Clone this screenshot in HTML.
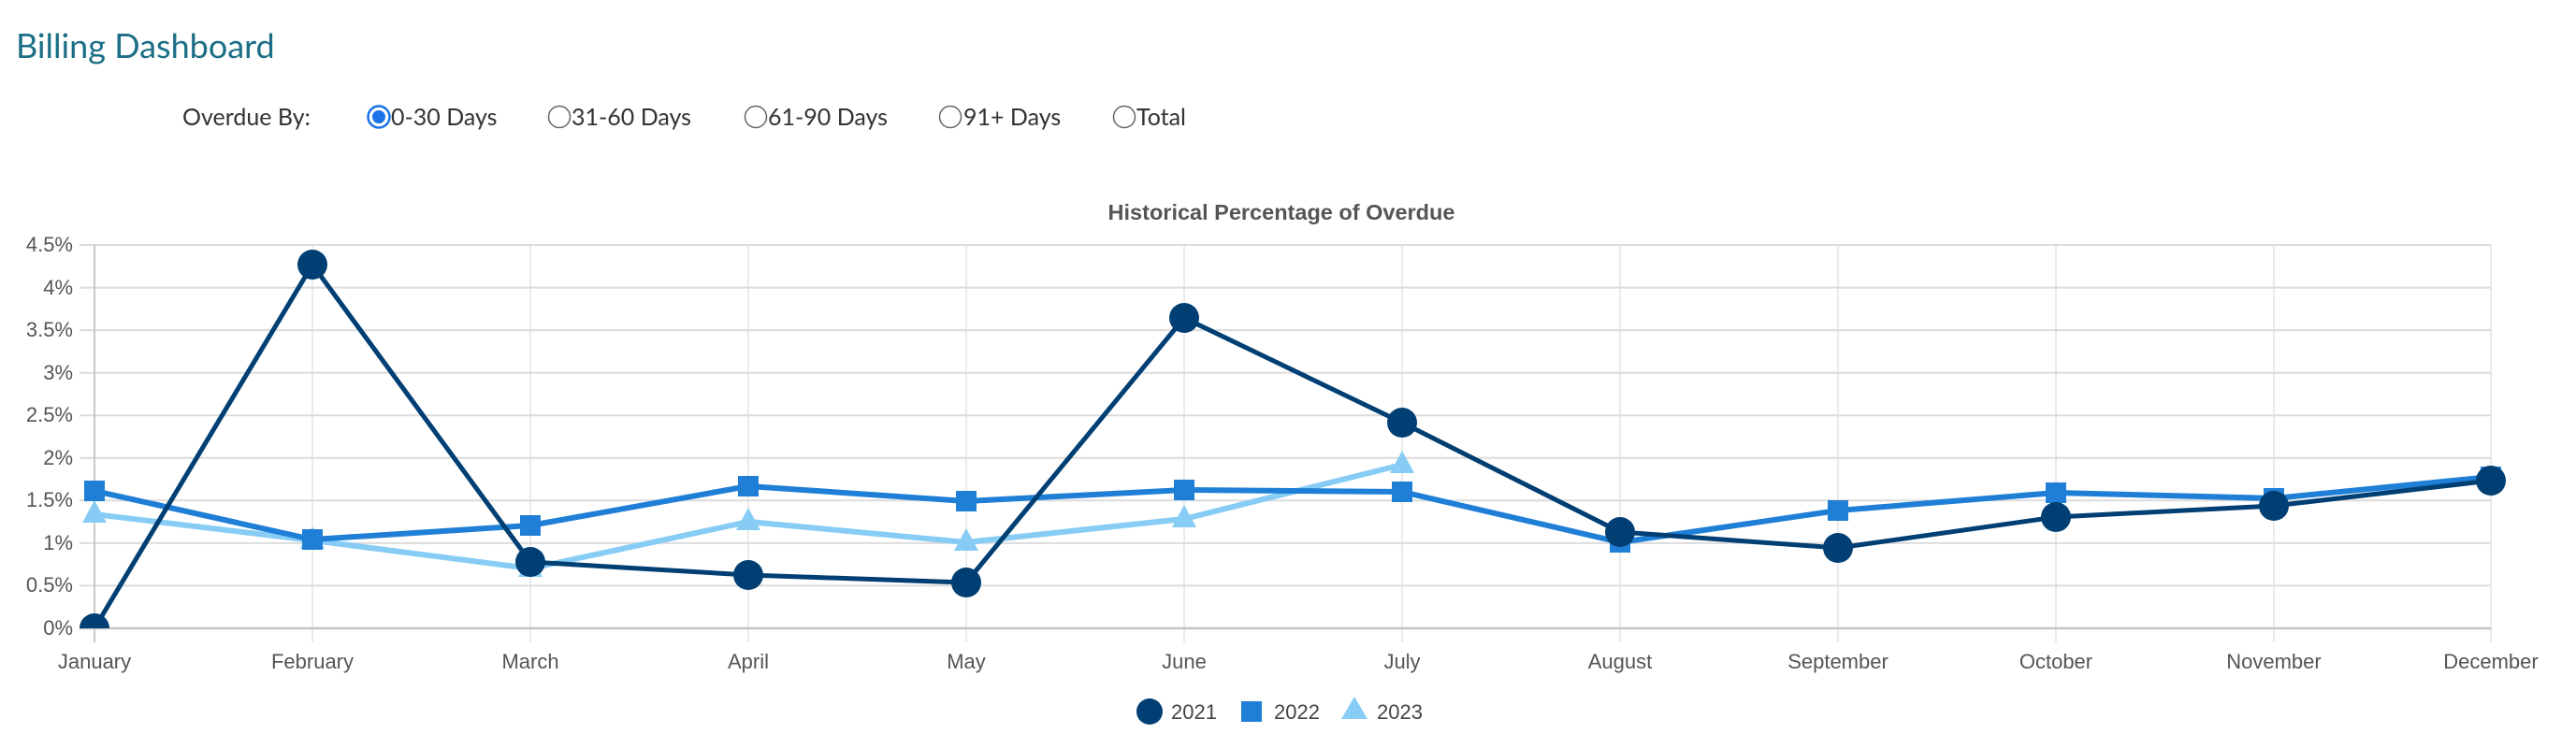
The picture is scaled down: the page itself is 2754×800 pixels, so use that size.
<!DOCTYPE html>
<html><head><meta charset="utf-8"><style>
html,body{margin:0;padding:0;background:#fff;width:2754px;height:800px;overflow:hidden}
svg{display:block}
</style></head><body>
<svg width="2754" height="800" viewBox="0 0 2754 800" xmlns="http://www.w3.org/2000/svg">
<text x="17" y="62" font-family="Lato, 'Liberation Sans', sans-serif" font-size="36" fill="#1b6e86">Billing Dashboard</text>
<g font-family="Lato, 'Liberation Sans', sans-serif" font-size="25" fill="#333">
<text x="195" y="134">Overdue By:</text>
<circle cx="405" cy="125" r="11.5" fill="#fff" stroke="#1a73e8" stroke-width="2.5"/>
<circle cx="405" cy="125" r="7" fill="#1a73e8"/>
<text x="418" y="134">0-30 Days</text>
<circle cx="598" cy="125" r="11.5" fill="#fff" stroke="#666" stroke-width="1.5"/>
<text x="611" y="134">31-60 Days</text>
<circle cx="808" cy="125" r="11.5" fill="#fff" stroke="#666" stroke-width="1.5"/>
<text x="821" y="134">61-90 Days</text>
<circle cx="1016" cy="125" r="11.5" fill="#fff" stroke="#666" stroke-width="1.5"/>
<text x="1030" y="134">91+ Days</text>
<circle cx="1202" cy="125" r="11.5" fill="#fff" stroke="#666" stroke-width="1.5"/>
<text x="1215" y="134">Total</text>
</g>
<text x="1370" y="235" text-anchor="middle" font-family="'Liberation Sans', sans-serif" font-weight="bold" font-size="23.5" fill="#555">Historical Percentage of Overdue</text>
<g stroke="#dcdcdc" stroke-width="2">
<line x1="85" y1="262" x2="2663" y2="262"/>
<line x1="85" y1="307.6" x2="2663" y2="307.6"/>
<line x1="85" y1="353.1" x2="2663" y2="353.1"/>
<line x1="85" y1="398.7" x2="2663" y2="398.7"/>
<line x1="85" y1="444.2" x2="2663" y2="444.2"/>
<line x1="85" y1="489.8" x2="2663" y2="489.8"/>
<line x1="85" y1="535.3" x2="2663" y2="535.3"/>
<line x1="85" y1="580.9" x2="2663" y2="580.9"/>
<line x1="85" y1="626.4" x2="2663" y2="626.4"/>
</g>
<g stroke="#dcdcdc" stroke-width="1.2">
<line x1="334" y1="262" x2="334" y2="687"/><line x1="567" y1="262" x2="567" y2="687"/>
<line x1="800" y1="262" x2="800" y2="687"/><line x1="1033" y1="262" x2="1033" y2="687"/>
<line x1="1266" y1="262" x2="1266" y2="687"/><line x1="1499" y1="262" x2="1499" y2="687"/>
<line x1="1732" y1="262" x2="1732" y2="687"/><line x1="1965" y1="262" x2="1965" y2="687"/>
<line x1="2198" y1="262" x2="2198" y2="687"/><line x1="2431" y1="262" x2="2431" y2="687"/>
<line x1="2663" y1="262" x2="2663" y2="687"/>
</g>
<line x1="101" y1="262" x2="101" y2="687" stroke="#c8c8c8" stroke-width="2"/>
<line x1="85" y1="672" x2="2663" y2="672" stroke="#c4c4c4" stroke-width="2.5"/>
<g font-family="'Liberation Sans', sans-serif" font-size="22" fill="#555" text-anchor="end">
<text x="78" y="269">4.5%</text><text x="78" y="315">4%</text><text x="78" y="360">3.5%</text>
<text x="78" y="406">3%</text><text x="78" y="451">2.5%</text><text x="78" y="497">2%</text>
<text x="78" y="542">1.5%</text><text x="78" y="588">1%</text><text x="78" y="633">0.5%</text>
<text x="78" y="679">0%</text>
</g>
<g font-family="'Liberation Sans', sans-serif" font-size="22" fill="#555" text-anchor="middle">
<text x="101" y="715">January</text><text x="334" y="715">February</text><text x="567" y="715">March</text>
<text x="800" y="715">April</text><text x="1033" y="715">May</text><text x="1266" y="715">June</text>
<text x="1499" y="715">July</text><text x="1732" y="715">August</text><text x="1965" y="715">September</text>
<text x="2198" y="715">October</text><text x="2431" y="715">November</text><text x="2663" y="715">December</text>
</g>
<defs><clipPath id="pc"><rect x="0" y="240" width="2754" height="432"/></clipPath></defs>
<g clip-path="url(#pc)">
<polyline fill="none" stroke="#86ccf5" stroke-width="6" stroke-linejoin="round" points="101,550 334,578 567,608 800,558 1033,580 1266,555 1499,497"/>
<g fill="#86ccf5">
<polygon points="101,535 114,559 88,559"/><polygon points="334,563 347,587 321,587"/>
<polygon points="567,593 580,617 554,617"/><polygon points="800,543 813,567 787,567"/>
<polygon points="1033,565 1046,589 1020,589"/><polygon points="1266,540 1279,564 1253,564"/>
<polygon points="1499,482 1512,506 1486,506"/>
</g>
<polyline fill="none" stroke="#1f7fd6" stroke-width="6" stroke-linejoin="round" points="101,525 334,577 567,562 800,520 1033,536 1266,524 1499,526 1732,580 1965,546 2198,527 2431,533 2663,510"/>
<g fill="#1f7fd6">
<rect x="90" y="514" width="22" height="22"/><rect x="323" y="566" width="22" height="22"/>
<rect x="556" y="551" width="22" height="22"/><rect x="789" y="509" width="22" height="22"/>
<rect x="1022" y="525" width="22" height="22"/><rect x="1255" y="513" width="22" height="22"/>
<rect x="1488" y="515" width="22" height="22"/><rect x="1721" y="569" width="22" height="22"/>
<rect x="1954" y="535" width="22" height="22"/><rect x="2187" y="516" width="22" height="22"/>
<rect x="2420" y="522" width="22" height="22"/><rect x="2652" y="499" width="22" height="22"/>
</g>
<polyline fill="none" stroke="#003f73" stroke-width="5" stroke-linejoin="round" points="101,672 334,283 567,601 800,615 1033,623 1266,340 1499,452 1732,569 1965,586 2198,553 2431,541 2663,514"/>
<g fill="#003f73">
<circle cx="101" cy="672" r="16"/><circle cx="334" cy="283" r="16"/><circle cx="567" cy="601" r="16"/>
<circle cx="800" cy="615" r="16"/><circle cx="1033" cy="623" r="16"/><circle cx="1266" cy="340" r="16"/>
<circle cx="1499" cy="452" r="16"/><circle cx="1732" cy="569" r="16"/><circle cx="1965" cy="586" r="16"/>
<circle cx="2198" cy="553" r="16"/><circle cx="2431" cy="541" r="16"/><circle cx="2663" cy="514" r="16"/>
</g>
</g>
<g font-family="'Liberation Sans', sans-serif" font-size="22" fill="#444">
<circle cx="1229" cy="761" r="14" fill="#003f73"/>
<text x="1252" y="769">2021</text>
<rect x="1327" y="750" width="22" height="22" fill="#1f7fd6"/>
<text x="1362" y="769">2022</text>
<polygon points="1448,745 1462,769 1434,769" fill="#86ccf5"/>
<text x="1472" y="769">2023</text>
</g>
</svg>
</body></html>
